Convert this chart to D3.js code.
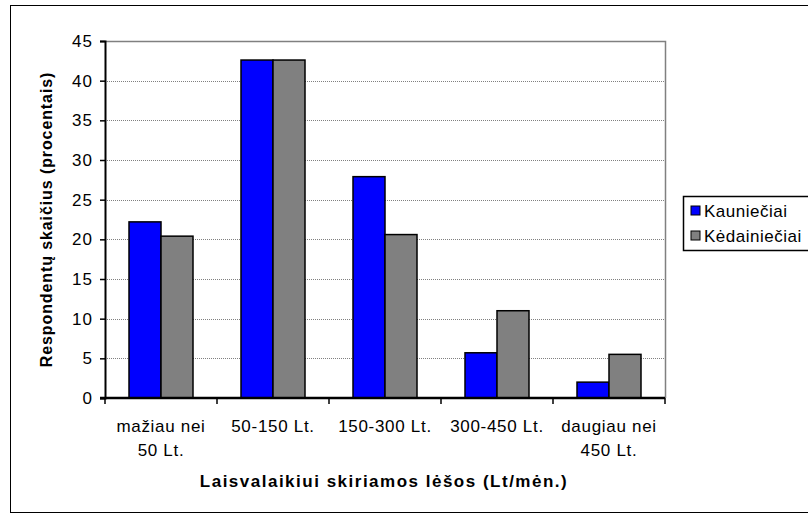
<!DOCTYPE html>
<html>
  <head>
    <meta charset="utf-8">
    <script src="https://d3js.org/d3.v7.min.js"></script>
    <style>
      body { margin: 0; background: #fff; }
      text { font-family: "Liberation Sans", Arial, sans-serif; }
    </style>
  </head>
  <body>
    <div class="visual"></div>
    <script>
      // data
      let categories = [['mažiau nei', '50 Lt.'], ['50-150 Lt.'], ['150-300 Lt.'], ['300-450 Lt.'], ['daugiau nei', '450 Lt.']];
      let seriesNames = ['Kauniečiai', 'Kėdainiečiai'];
      let kaunas = [22.2, 42.6, 27.9, 5.7, 2.0];
      let kedainiai = [20.4, 42.6, 20.6, 11.0, 5.5];
      let yTicks = [0, 5, 10, 15, 20, 25, 30, 35, 40, 45];
      let colors = ['#0000ff', '#808080'];

      let width = 808, height = 523;
      let plot = {left: 105, top: 41, right: 665, bottom: 398};

      let svg = d3.select('.visual').append('svg')
        .attr('width', width)
        .attr('height', height);

      // outer chart border (right side runs off the picture)
      svg.append('rect')
        .attr('x', 10.5).attr('y', 5.5)
        .attr('width', 810).attr('height', 507)
        .attr('fill', 'none').attr('stroke', '#000');

      let x = d3.scaleBand()
        .domain(d3.range(categories.length))
        .range([plot.left, plot.right]);

      let xInner = d3.scaleBand()
        .domain(d3.range(seriesNames.length))
        .range([0, x.bandwidth()])
        .paddingInner(0)
        .paddingOuter(0.75);

      let y = d3.scaleLinear()
        .domain([0, 45])
        .range([plot.bottom, plot.top]);

      // grid lines
      svg.append('g').selectAll('line')
        .data(yTicks.filter(d => d > 0 && d < 45))
        .enter().append('line')
        .attr('x1', plot.left).attr('x2', plot.right)
        .attr('y1', d => Math.round(y(d)) + 0.5)
        .attr('y2', d => Math.round(y(d)) + 0.5)
        .attr('stroke', '#808080')
        .attr('stroke-dasharray', '1,1');

      // top and right border of plot area
      svg.append('path')
        .attr('d', 'M' + plot.left + ',' + (plot.top + 0.5) + 'H' + (plot.right + 0.5) + 'V' + plot.bottom)
        .attr('fill', 'none')
        .attr('stroke', '#808080')
        .attr('stroke-width', 1.5);

      // bars
      let series = [kaunas, kedainiai];
      series.forEach(function(vals, s) {
        svg.append('g').selectAll('rect')
          .data(vals)
          .enter().append('rect')
          .attr('x', (d, i) => x(i) + xInner(s))
          .attr('y', d => y(d))
          .attr('width', xInner.bandwidth())
          .attr('height', d => y(0) - y(d))
          .attr('fill', colors[s])
          .attr('stroke', '#000')
          .attr('stroke-width', 1.5);
      });

      // y axis
      let yAxis = d3.axisLeft(y).tickValues(yTicks).tickSize(5).tickPadding(7);
      let gy = svg.append('g')
        .attr('transform', 'translate(' + plot.left + ',0)')
        .call(yAxis);
      gy.select('.domain').attr('stroke', '#000').attr('stroke-width', 2);
      gy.selectAll('.tick line').attr('stroke', '#000').attr('stroke-width', 1.5);
      gy.selectAll('.tick text')
        .attr('font-size', 17)
        .attr('letter-spacing', 1)
        .attr('fill', '#000')
        .style('font-family', '"Liberation Sans", Arial, sans-serif');

      // x axis
      let xTicks = d3.range(categories.length + 1).map(i => plot.left + i * x.step());
      svg.append('line')
        .attr('x1', plot.left - 5).attr('x2', plot.right)
        .attr('y1', plot.bottom).attr('y2', plot.bottom)
        .attr('stroke', '#000').attr('stroke-width', 2.5);
      svg.append('g').selectAll('line')
        .data(xTicks)
        .enter().append('line')
        .attr('x1', d => d).attr('x2', d => d)
        .attr('y1', plot.bottom).attr('y2', plot.bottom + 6)
        .attr('stroke', '#000').attr('stroke-width', 1.5);

      let labels = svg.append('g').selectAll('text')
        .data(categories)
        .enter().append('text')
        .attr('text-anchor', 'middle')
        .attr('font-size', 17)
        .attr('letter-spacing', 0.7)
        .attr('fill', '#000');
      labels.each(function(lines, i) {
        d3.select(this).selectAll('tspan')
          .data(lines)
          .enter().append('tspan')
          .attr('x', x(i) + x.bandwidth() / 2)
          .attr('y', (d, j) => 432 + j * 24)
          .text(d => d);
      });

      // axis titles
      svg.append('text')
        .attr('x', (plot.left + plot.right) / 2 - 1)
        .attr('y', 487)
        .attr('text-anchor', 'middle')
        .attr('font-size', 17)
        .attr('font-weight', 'bold')
        .attr('letter-spacing', 1.5)
        .text('Laisvalaikiui skiriamos lėšos (Lt/mėn.)');

      svg.append('text')
        .attr('transform', 'translate(52,' + ((plot.top + plot.bottom) / 2) + ') rotate(-90)')
        .attr('text-anchor', 'middle')
        .attr('font-size', 16)
        .attr('font-weight', 'bold')
        .attr('letter-spacing', 0.9)
        .text('Respondentų skaičius (procentais)');

      // legend (cut by the right edge)
      let legend = svg.append('g').attr('transform', 'translate(683,196)');
      legend.append('rect')
        .attr('x', 0.5).attr('y', 0.5)
        .attr('width', 140).attr('height', 54)
        .attr('fill', '#fff').attr('stroke', '#000').attr('stroke-width', 1.5);
      seriesNames.forEach(function(name, s) {
        legend.append('rect')
          .attr('x', 8).attr('y', 10 + s * 25)
          .attr('width', 9).attr('height', 9)
          .attr('fill', colors[s]).attr('stroke', '#000');
        legend.append('text')
          .attr('x', 21).attr('y', 21 + s * 25)
          .attr('font-size', 17)
          .attr('letter-spacing', 0.5)
          .text(name);
      });
    </script>
  </body>
</html>
